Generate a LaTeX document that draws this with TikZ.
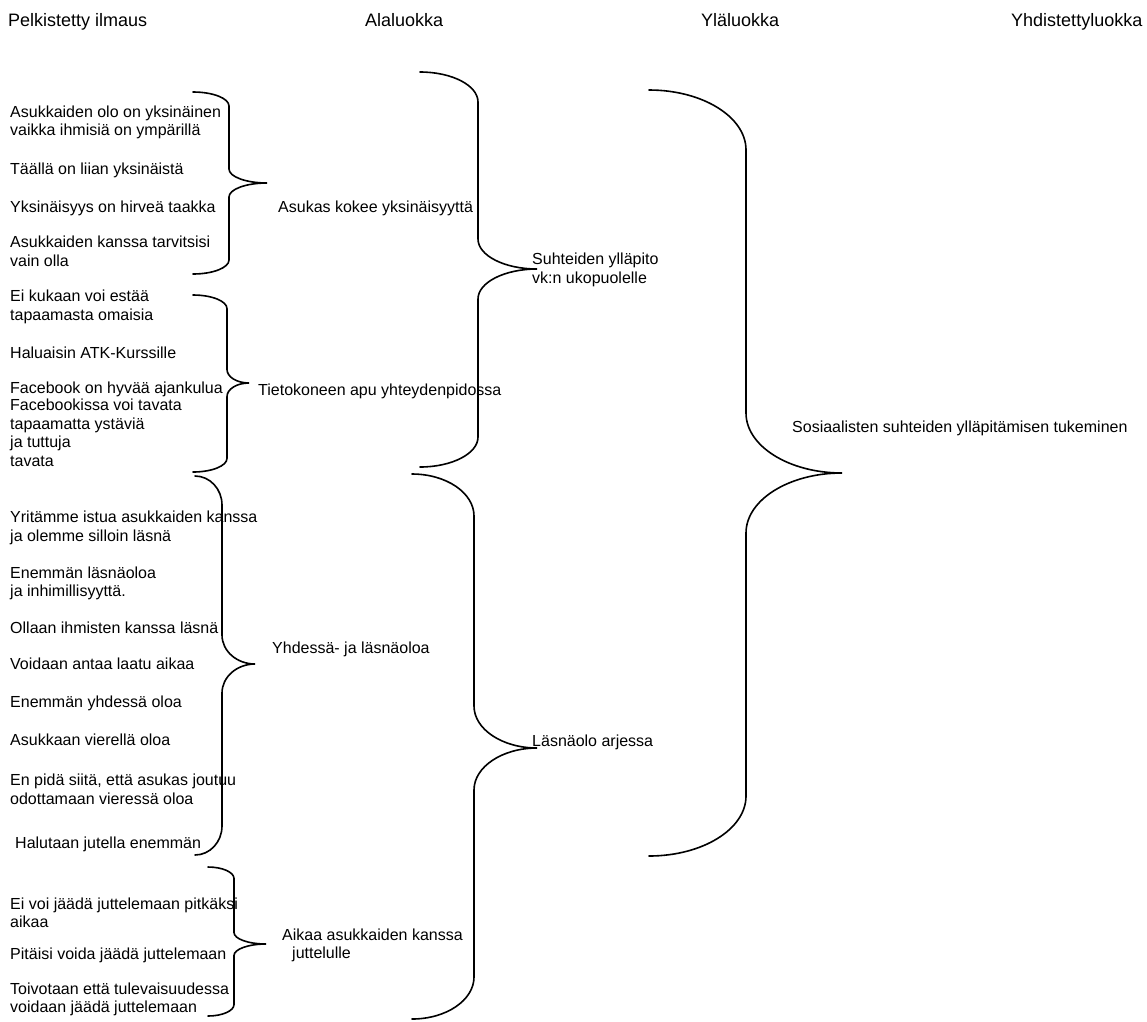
\documentclass[tikz,border=0pt]{standalone}
\usepackage{fontspec}
\setmainfont{Liberation Sans}

% Curly brace opening to the right:
% #1 x of the ends, #2 x of the spine, #3 x of the tip,
% #4 y of the top end, #5 y of the tip, #6 y of the bottom end, #7 arc height
\newcommand{\drawbrace}[7]{%
  \draw[bracestyle] (#1,#4)
    .. controls ({#1+0.552*(#2-#1)},#4) and (#2,{#4+0.448*#7}) .. (#2,{#4+#7})
    -- (#2,{#5-#7})
    .. controls (#2,{#5-0.448*#7}) and ({#2+0.448*(#3-#2)},#5) .. (#3,#5)
    .. controls ({#2+0.448*(#3-#2)},#5) and (#2,{#5+0.448*#7}) .. (#2,{#5+#7})
    -- (#2,{#6-#7})
    .. controls (#2,{#6-0.448*#7}) and ({#1+0.552*(#2-#1)},#6) .. (#1,#6);}

\tikzset{
  bracestyle/.style={line width=1.6pt, line cap=round},
  item/.style={anchor=north west, inner sep=0pt, align=left,
    font=\fontsize{16}{18.5}\selectfont,
    execute at begin node=\rule{0pt}{13pt}},
  head/.style={item, font=\fontsize{18}{21}\selectfont}
}

\begin{document}
\begin{tikzpicture}[x=1pt,y=-1pt]
\fill[white] (0,0) rectangle (1147,1021);
\useasboundingbox (0,0) rectangle (1147,1021);

% column headings
\node[head] (h1) at (8,13.5) {Pelkistetty ilmaus};
\node[head] (h2) at (365,13.5) {Alaluokka};
\node[head] (h3) at (701,13.5) {Yläluokka};
\node[head] (h4) at (1011,13.5) {Yhdistettyluokka};

% simplified expressions
\node[item] (e1)  at (10,105.5) {Asukkaiden olo on yksinäinen\\vaikka ihmisiä on ympärillä};
\node[item] (e2)  at (10,161.5) {Täällä on liian yksinäistä};
\node[item] (e3)  at (10,199.5) {Yksinäisyys on hirveä taakka};
\node[item] (e4)  at (10,236) {Asukkaiden kanssa tarvitsisi\\vain olla};
\node[item] (e5)  at (10,290) {Ei kukaan voi estää\\tapaamasta omaisia};
\node[item] (e6)  at (10,345) {Haluaisin ATK-Kurssille};
\node[item] (e7)  at (10,380) {Facebook on hyvää ajankulua};
\node[item] (e8)  at (10,399) {Facebookissa voi tavata\\tapaamatta ystäviä\\ja tuttuja\\tavata};
\node[item] (e9)  at (10,511) {Yritämme istua asukkaiden kanssa\\ja olemme silloin läsnä};
\node[item] (e10) at (10,566.5) {Enemmän läsnäoloa\\ja inhimillisyyttä.};
\node[item] (e11) at (10,620.5) {Ollaan ihmisten kanssa läsnä};
\node[item] (e12) at (10,656.5) {Voidaan antaa laatu aikaa};
\node[item] (e13) at (10,694.5) {Enemmän yhdessä oloa};
\node[item] (e14) at (10,732) {Asukkaan vierellä oloa};
\node[item] (e15) at (10,774) {En pidä siitä, että asukas joutuu\\odottamaan vieressä oloa};
\node[item] (e16) at (15,835) {Halutaan jutella enemmän};
\node[item] (e17) at (10,897.5) {Ei voi jäädä juttelemaan pitkäksi\\aikaa};
\node[item] (e18) at (10,946) {Pitäisi voida jäädä juttelemaan};
\node[item] (e19) at (10,982.5) {Toivotaan että tulevaisuudessa\\voidaan jäädä juttelemaan};

% subcategories
\node[item] (s1) at (278,199.5) {Asukas kokee yksinäisyyttä};
\node[item] (s2) at (258,382) {Tietokoneen apu yhteydenpidossa};
\node[item] (s3) at (272,640) {Yhdessä- ja läsnäoloa};
\node[item] (s4) at (282,928.5) {Aikaa asukkaiden kanssa\\\hspace*{10pt}juttelulle};

% upper categories
\node[item] (u1) at (532,253) {Suhteiden ylläpito\\vk:n ukopuolelle};
\node[item] (u2) at (532,733.5) {Läsnäolo arjessa};

% combined category
\node[item] (c1) at (792,419.5) {Sosiaalisten suhteiden ylläpitämisen tukeminen};

% braces grouping expressions into subcategories
\drawbrace{193}{229}{267}{92}{183}{274}{14}
\drawbrace{193}{227}{249}{295}{383}{472}{13.6}
\drawbrace{195}{222}{255}{476}{664}{855}{29}
\drawbrace{208}{234}{266}{867}{944}{1016}{11.5}

% braces grouping subcategories into upper categories
\drawbrace{420}{478}{537}{72}{269}{467}{30}
\drawbrace{412}{474}{537}{474}{748}{1019}{42}

% brace grouping upper categories into the combined category
\drawbrace{649}{746}{842}{90}{473}{856}{60}
\end{tikzpicture}
\end{document}
